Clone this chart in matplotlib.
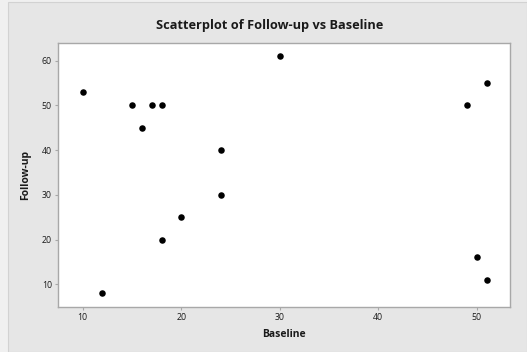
import matplotlib
matplotlib.use("Agg")
import matplotlib.pyplot as plt
from matplotlib.patches import Rectangle

baseline = [10, 12, 15, 16, 17, 18, 18, 20, 24, 24, 30, 49, 50, 51, 51]
follow_up = [53, 8, 50, 45, 50, 50, 20, 25, 40, 30, 61, 50, 16, 55, 11]
x_ticks = [10, 20, 30, 40, 50]
y_ticks = [10, 20, 30, 40, 50, 60]

plt.rcParams['font.family'] = ['Open Sans', 'DejaVu Sans']

fig = plt.figure(figsize=(5.27, 3.52), dpi=100)
fig.patch.set_facecolor('#f0f0f0')
# graph region background with thin border
fig.add_artist(Rectangle((8 / 527, 0), 1 - 8 / 527, 1 - 1.5 / 352,
                         transform=fig.transFigure, facecolor='#e6e6e6',
                         edgecolor='#d2d2d2', linewidth=0.8, zorder=0))

ax = fig.add_axes([58.3 / 527, 1 - 306.7 / 352, (510 - 58.3) / 527, (306.7 - 42.7) / 352])
ax.set_facecolor('white')
ax.scatter(baseline, follow_up, s=22, color='black', zorder=3, linewidths=0)

ax.set_xlim(7.52, 53.38)
ax.set_ylim(5.0, 64.0)
ax.set_xticks(x_ticks)
ax.set_yticks(y_ticks)

for s in ax.spines.values():
    s.set_color('#a8a8a8')
    s.set_linewidth(1.0)
ax.tick_params(axis='both', direction='out', length=2.5, width=0.8,
               color='#a8a8a8', labelsize=6.3, labelcolor='#1a1a1a', pad=2)
for lbl in ax.get_xticklabels() + ax.get_yticklabels():
    lbl.set_fontweight('medium')

ax.set_xlabel('Baseline', fontsize=7.5, fontweight='bold', color='#1a1a1a', labelpad=5)
ax.set_ylabel('Follow-up', fontsize=7.5, fontweight='bold', color='#1a1a1a', labelpad=8)

fig.text(270 / 527, 1 - 25 / 352, 'Scatterplot of Follow-up vs Baseline',
         ha='center', va='center', fontsize=9.2, fontweight='bold', color='#1a1a1a')

fig.savefig('out.png', dpi=100, facecolor=fig.get_facecolor())
